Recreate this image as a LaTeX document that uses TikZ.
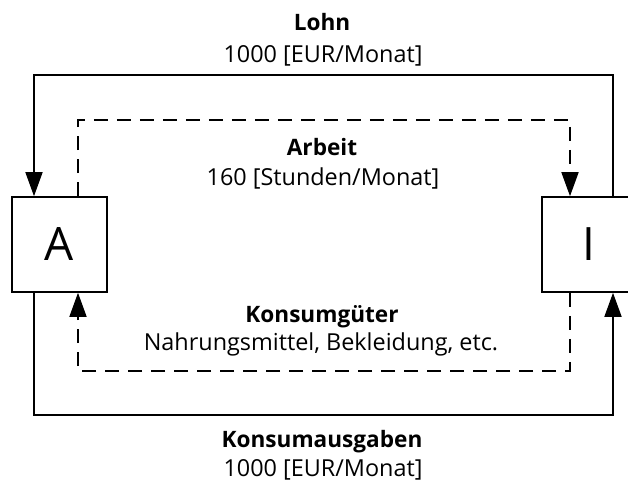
\documentclass[tikz,border=0pt]{standalone}
\usepackage{fontspec}
\setmainfont{Open Sans}
\usetikzlibrary{arrows.meta}
\tikzset{
  flowbox/.style={draw, line width=1.6pt, minimum width=95pt, minimum height=95pt, inner sep=0pt, font=\fontsize{46}{50}\selectfont},
  moneyflow/.style={line width=1.6pt, -{Triangle[length=24pt,width=17pt]}},
  realflow/.style={line width=1.6pt, dash pattern=on 14pt off 9pt, -{Triangle[length=24pt,width=17pt]}},
  titlelbl/.style={anchor=base, font=\fontsize{22.6}{26}\selectfont\bfseries, inner sep=0pt},
  valuelbl/.style={anchor=base, font=\fontsize{23.4}{27}\selectfont, inner sep=0pt}
}
\begin{document}
\begin{tikzpicture}[x=1pt,y=-1pt]
\clip (0,0) rectangle (628,482);
\fill[white] (0,0) rectangle (628,482);
% boxes
\node[flowbox] (A) at (59.5,244.5) {A};
\node[flowbox, minimum width=93pt] (I) at (588.5,244.5) {I};
% corner coordinates
\coordinate (otr) at (613,75);
\coordinate (otl) at (34,75);
\coordinate (obl) at (34,415);
\coordinate (obr) at (613,415);
\coordinate (itl) at (78,120);
\coordinate (itr) at (570,120);
\coordinate (ibl) at (78,371);
\coordinate (ibr) at (570,371);
% money flows
\draw[moneyflow] (I.north -| otr) -- (otr) -- (otl) -- (A.north -| otl);
\draw[moneyflow] (A.south -| obl) -- (obl) -- (obr) -- (I.south -| obr);
% real flows
\draw[realflow] (A.north -| itl) -- (itl) -- (itr) -- (I.north -| itr);
\draw[realflow] (I.south -| ibr) -- (ibr) -- (ibl) -- (A.south -| ibl);
% labels
\node[titlelbl] (lohn) at (322,30) {Lohn};
\node[valuelbl] (lohnv) at (323,62) {1000 [EUR/Monat]};
\node[titlelbl] (arb) at (322,155) {Arbeit};
\node[valuelbl] (arbv) at (323,185) {160 [Stunden/Monat]};
\node[titlelbl] (kg) at (322,322) {Konsumgüter};
\node[valuelbl] (kgv) at (321,350) {Nahrungsmittel, Bekleidung, etc.};
\node[titlelbl] (ka) at (322,447) {Konsumausgaben};
\node[valuelbl] (kav) at (323,476) {1000 [EUR/Monat]};
\end{tikzpicture}
\end{document}
